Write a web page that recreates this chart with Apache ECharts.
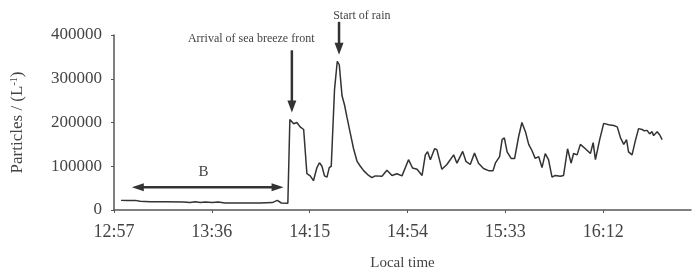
<!DOCTYPE html>
<html>
<head>
<meta charset="utf-8">
<script src="https://cdn.jsdelivr.net/npm/echarts@6/dist/echarts.min.js"></script>
<style>
  html, body { margin: 0; padding: 0; background: #fff; }
  #chart { width: 693px; height: 276px; }
</style>
</head>
<body>
<div id="chart"></div>
<script>
  // minutes after 12:57
  const minutes = [
    2.8, 5.3, 8.5, 10.4, 14.4, 20.4, 27.6, 30.4, 32.4, 34.4, 36.4, 39.2, 41.5, 44.3, 50.3, 58.3,
    63.1, 65.1, 66.7, 69.3, 70.1, 71.6, 72.9, 74.2, 75.6, 76.9, 78.2, 79.5, 80.9, 81.9, 82.9, 83.9,
    84.9, 85.8, 86.6, 87.9, 89.0, 89.8, 90.9, 91.9, 92.9, 94.2, 95.5, 96.9, 98.2, 99.5, 101.5, 102.8,
    104.1, 106.8, 108.8, 110.8, 112.8, 114.8, 117.4, 119.0, 120.8, 122.8, 124.1, 125.0, 126.1, 127.8,
    128.7, 130.7, 132.7, 135.4, 136.7, 139.0, 140.3, 142.0, 143.7, 145.3, 147.3, 149.3, 151.1, 152.0,
    153.7, 154.7, 155.6, 156.7, 158.3, 159.7, 161.3, 162.6, 164.0, 165.3, 166.6, 167.9, 169.3, 170.6,
    171.9, 173.2, 174.6, 175.9, 177.9, 179.2, 180.8, 182.2, 183.2, 184.6, 185.9, 187.9, 189.9, 191.0,
    191.9, 193.6, 195.2, 197.2, 199.2, 200.6, 201.9, 203.2, 204.3, 205.1, 206.5, 207.8, 209.1, 210.5,
    211.4, 212.5, 213.5, 214.5, 215.1, 216.5, 217.5, 218.5
  ]
  const particles = [
    22000, 21500, 22000, 20000, 19000, 19000, 18500, 17000, 19000, 17000, 18500, 17000, 18500, 16000, 16000, 16000,
    17000, 22000, 16000, 15500, 207000, 197000, 200000, 190000, 184000, 83000, 78000, 67000, 97000, 108000, 100000, 78000,
    75000, 97000, 100000, 275000, 340000, 332000, 261000, 240000, 211000, 175000, 140000, 111000, 100000, 90000, 79000, 74000,
    78000, 77000, 91000, 79000, 83000, 78000, 115000, 96000, 93000, 79000, 126000, 133000, 115000, 140000,
    138000, 93000, 104000, 126000, 107000, 134000, 111000, 104000, 130000, 107000, 95000, 90000, 90000, 107000,
    122000, 161000, 165000, 133000, 118000, 118000, 168000, 200000, 179000, 150000, 136000, 118000, 122000, 97000,
    129000, 115000, 75000, 79000, 77000, 79000, 140000, 107000, 129000, 126000, 150000, 140000, 129000, 154000,
    115000, 161000, 198000, 195000, 193000, 190000, 165000, 150000, 161000, 133000, 126000, 158000, 186000, 184000,
    181000, 182000, 174000, 179000, 170000, 179000, 172000, 161000
  ]
  const tickMinutes = [0, 39, 78, 117, 156, 195]
  const tickLabels = ['12:57', '13:36', '14:15', '14:54', '15:33', '16:12']

  // annotations, in data units [minute, particles]
  const arrows = [
    { from: [70.9, 365000], to: [70.9, 223000] },
    { from: [89.7, 430000], to: [89.7, 355000] }
  ]
  const notes = [
    { text: 'Arrival of sea breeze front', at: [54.7, 391000] },
    { text: 'Start of rain', at: [98.8, 444000] }
  ]
  const periodB = { from: [7.1, 51800], to: [67.6, 51800], label: 'B', labelAt: [35.7, 87400] }

  const font = 'Liberation Serif'
  const chart = echarts.init(document.getElementById('chart'))

  chart.setOption({
    animation: false,
    grid: { left: 114, right: 2, top: 35, bottom: 53.5 },
    xAxis: {
      type: 'value',
      min: 0,
      max: 230,
      name: 'Local time',
      nameLocation: 'middle',
      nameGap: 46,
      nameTextStyle: { fontFamily: font, fontSize: 15, color: '#444' },
      splitLine: { show: false },
      axisLine: { lineStyle: { color: '#555', width: 1.5 } },
      axisTick: { length: 3, lineStyle: { color: '#555' }, customValues: tickMinutes },
      axisLabel: {
        customValues: tickMinutes,
        formatter: v => tickLabels[tickMinutes.indexOf(v)] || '',
        fontFamily: font, fontSize: 18, color: '#444', margin: 13
      }
    },
    yAxis: {
      type: 'value',
      min: 0,
      max: 400000,
      interval: 100000,
      name: '{a|Particles / (L}{s|-1}{a|)}',
      nameLocation: 'middle',
      nameRotate: 90,
      nameGap: 88,
      nameTextStyle: {
        rich: {
          a: { fontFamily: font, fontSize: 17, color: '#444' },
          s: { fontFamily: font, fontSize: 10, color: '#444', verticalAlign: 'top', padding: [0, 0, 6, 0] }
        }
      },
      splitLine: { show: false },
      axisLine: { show: true, lineStyle: { color: '#555', width: 1.5 } },
      axisTick: { show: true, length: 3, lineStyle: { color: '#555' } },
      axisLabel: { formatter: v => String(v), fontFamily: font, fontSize: 17, color: '#444', margin: 12 }
    },
    series: [{
      type: 'line',
      data: minutes.map((m, i) => [m, particles[i]]),
      showSymbol: false,
      lineStyle: { color: '#333', width: 1.5 }
    }]
  })

  const px = p => chart.convertToPixel({ gridIndex: 0 }, p)

  function arrowHead(tip, dx, dy, len, half) {
    // dx, dy: unit direction of the arrow
    const bx = tip[0] - dx * len, by = tip[1] - dy * len
    return {
      type: 'polygon',
      shape: { points: [tip, [bx - dy * half, by + dx * half], [bx + dy * half, by - dx * half]] },
      style: { fill: '#333' }
    }
  }

  const graphics = []
  arrows.forEach(a => {
    const f = px(a.from), t = px(a.to)
    graphics.push({
      type: 'line',
      shape: { x1: f[0], y1: f[1], x2: t[0], y2: t[1] - 8 },
      style: { stroke: '#333', lineWidth: 2.5 }
    })
    graphics.push(arrowHead(t, 0, 1, 12, 4.5))
  })
  notes.forEach(n => {
    const p = px(n.at)
    graphics.push({
      type: 'text', x: p[0], y: p[1],
      style: { text: n.text, fontFamily: font, fontSize: 12, fill: '#444', align: 'center', verticalAlign: 'middle' }
    })
  })
  const bf = px(periodB.from), bt = px(periodB.to), bl = px(periodB.labelAt)
  graphics.push({
    type: 'line',
    shape: { x1: bf[0] + 8, y1: bf[1], x2: bt[0] - 8, y2: bt[1] },
    style: { stroke: '#333', lineWidth: 2.5 }
  })
  graphics.push(arrowHead(bf, -1, 0, 12, 4))
  graphics.push(arrowHead(bt, 1, 0, 12, 4))
  graphics.push({
    type: 'text', x: bl[0], y: bl[1],
    style: { text: periodB.label, fontFamily: font, fontSize: 15, fill: '#444', align: 'center', verticalAlign: 'middle' }
  })

  chart.setOption({ graphic: graphics })
</script>
</body>
</html>
